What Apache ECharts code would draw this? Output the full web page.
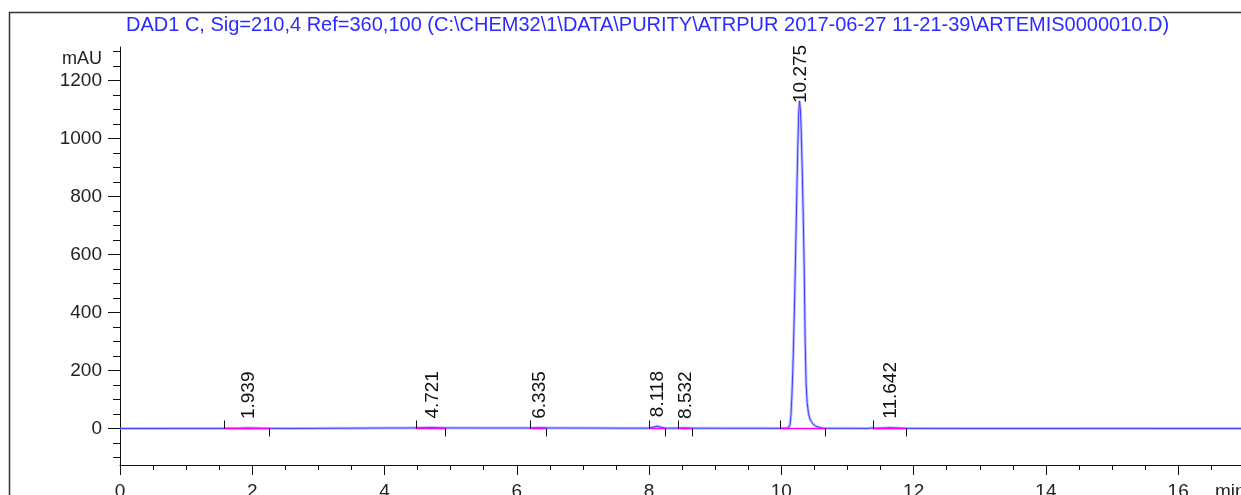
<!DOCTYPE html>
<html>
<head>
<meta charset="utf-8">
<title>DAD1 C chromatogram</title>
<script src="https://cdn.jsdelivr.net/npm/echarts@6/dist/echarts.min.js"></script>
<style>
  html, body { margin: 0; padding: 0; background: #ffffff; }
  #chart { width: 1241px; height: 495px; }
</style>
</head>
<body>
<div id="chart"></div>
<script>
// Signal header
const titleText = 'DAD1 C, Sig=210,4 Ref=360,100 (C:\\CHEM32\\1\\DATA\\PURITY\\ATRPUR 2017-06-27 11-21-39\\ARTEMIS0000010.D)';

// Detector trace: [retention time (min), absorbance (mAU)]
const trace = [
  [0.00, 0.0], [0.50, 0.2], [1.00, 0.3], [1.50, 0.3], [1.80, 0.6], [1.94, 1.5], [2.10, 0.6],
  [2.50, 0.2], [3.00, 0.4], [3.50, 1.0], [4.00, 1.5], [4.40, 1.8], [4.72, 3.0], [4.90, 2.0],
  [5.30, 1.8], [5.80, 1.6], [6.20, 1.5], [6.335, 2.5], [6.50, 1.6], [7.00, 1.4], [7.50, 1.2],
  [7.90, 1.0], [8.00, 1.2], [8.06, 4.0], [8.118, 8.0], [8.18, 4.0], [8.24, 1.2], [8.44, 1.0],
  [8.532, 2.0], [8.65, 1.0], [9.00, 0.8], [9.50, 0.6], [9.98, 0.5], [10.10, 0.8],
  [10.118, 2], [10.13, 12], [10.145, 45], [10.16, 115], [10.175, 215], [10.19, 340],
  [10.205, 490], [10.22, 655], [10.235, 825], [10.25, 985], [10.262, 1085], [10.275, 1130],
  [10.288, 1100], [10.30, 1030], [10.315, 900], [10.33, 740], [10.345, 560], [10.36, 300],
  [10.375, 150], [10.39, 90], [10.41, 52], [10.43, 34], [10.45, 25], [10.48, 15], [10.52, 8],
  [10.58, 3], [10.64, 0.8], [10.70, 0.5], [11.00, 0.4], [11.30, 0.3], [11.36, 1.5], [11.40, 0.4],
  [11.55, 1.5], [11.642, 2.5], [11.75, 1.5], [11.88, 0.5], [12.30, 0.3], [13.00, 0.2],
  [14.00, 0.2], [15.00, 0.3], [16.00, 0.2], [16.95, 0.2]
];

// Integrated peaks
const peakTimes   = [1.939, 4.721, 6.335, 8.118, 8.532, 10.275, 11.642];
const peakHeights = [1.5, 3.0, 2.5, 8.0, 2.0, 1130, 2.5];
const integStart  = [1.58, 4.47, 6.20, 8.00, 8.44, 9.98, 11.38];
const integEnd    = [2.25, 4.92, 6.44, 8.24, 8.65, 10.66, 11.88];

// Axis ticks
const xMajorTicks = [0, 2, 4, 6, 8, 10, 12, 14, 16];
const xMinorTicks = [];
for (let v = 0; v <= 16.5; v += 0.5) xMinorTicks.push(v);
const yMajorTicks = [0, 200, 400, 600, 800, 1000, 1200];
const yMinorTicks = [];
for (let v = -100; v <= 1300; v += 50) yMinorTicks.push(v);

const X_MIN = 0, X_MAX = 16.95;
const Y_MIN = -126, Y_MAX = 1316;

const FONT = 'Liberation Sans, Arial, sans-serif';
const chart = echarts.init(document.getElementById('chart'), null, { renderer: 'canvas' });

const peakLabelData = peakTimes.map((t, i) => [t, peakHeights[i]]);
const integData = integStart.map((s, i) => [s, integEnd[i]]);

const plainNumber = v => String(v);
const axisCommon = { type: 'value', splitLine: { show: false } };

chart.setOption({
  animation: false,
  backgroundColor: '#ffffff',
  title: {
    text: titleText,
    left: 126, top: 15, padding: 0,
    textStyle: { color: '#2b2bff', fontFamily: FONT, fontSize: 20, fontWeight: 'normal' }
  },
  grid: { left: 120, right: 0, top: 47, bottom: 30, containLabel: false, outerBoundsMode: 'none' },
  xAxis: [
    Object.assign({}, axisCommon, {
      min: X_MIN, max: X_MAX, position: 'bottom',
      axisLine: { show: true, onZero: false, lineStyle: { color: '#111', width: 1 } },
      axisTick: { show: true, customValues: xMajorTicks, length: 10, lineStyle: { color: '#111', width: 1 } },
      axisLabel: { show: true, customValues: xMajorTicks, formatter: plainNumber, margin: 17, color: '#222', fontFamily: FONT, fontSize: 19 }
    }),
    Object.assign({}, axisCommon, {
      min: X_MIN, max: X_MAX, position: 'bottom', offset: 0,
      axisLine: { show: false, onZero: false },
      axisTick: { show: true, customValues: xMinorTicks, length: 5, lineStyle: { color: '#111', width: 1 } },
      axisLabel: { show: false }
    })
  ],
  yAxis: [
    Object.assign({}, axisCommon, {
      min: Y_MIN, max: Y_MAX, position: 'left',
      axisLine: { show: true, onZero: false, lineStyle: { color: '#111', width: 1 } },
      axisTick: { show: true, customValues: yMajorTicks, length: 12, lineStyle: { color: '#111', width: 1 } },
      axisLabel: { show: true, customValues: yMajorTicks, formatter: plainNumber, margin: 18, color: '#222', fontFamily: FONT, fontSize: 19 }
    }),
    Object.assign({}, axisCommon, {
      min: Y_MIN, max: Y_MAX, position: 'left', offset: 0,
      axisLine: { show: false, onZero: false },
      axisTick: { show: true, customValues: yMinorTicks, length: 7, lineStyle: { color: '#111', width: 1 } },
      axisLabel: { show: false }
    })
  ],
  graphic: [
    // outer frame of the printout
    { type: 'rect', shape: { x: 9.5, y: 12.5, width: 1300, height: 600 }, style: { fill: 'none', stroke: '#333', lineWidth: 1.5 }, silent: true },
    { type: 'text', right: 1241 - 102, top: 50, style: { text: 'mAU', fill: '#222', font: '18px ' + FONT } },
    { type: 'text', left: 1215, top: 482, style: { text: 'min', fill: '#222', font: '19px ' + FONT } }
  ],
  series: [
    {
      type: 'line', name: 'halo', data: trace, showSymbol: false, silent: true,
      lineStyle: { color: 'rgba(120,120,255,0.45)', width: 3 }, z: 2
    },
    {
      type: 'line', name: 'DAD1 C', data: trace, showSymbol: false, silent: true,
      lineStyle: { color: '#3a3aff', width: 1 }, z: 3
    },
    {
      type: 'custom', name: 'integration', data: integData, z: 4, silent: true,
      renderItem: function (params, api) {
        const p1 = api.coord([api.value(0), 0]);
        const p2 = api.coord([api.value(1), 0]);
        return {
          type: 'group',
          children: [
            { type: 'line', shape: { x1: p1[0], y1: p1[1], x2: p2[0], y2: p2[1] }, style: { stroke: '#ff00ff', lineWidth: 1.5 } },
            { type: 'line', shape: { x1: Math.round(p1[0]) + 0.5, y1: p1[1], x2: Math.round(p1[0]) + 0.5, y2: p1[1] - 8 }, style: { stroke: '#111', lineWidth: 1 } },
            { type: 'line', shape: { x1: Math.round(p2[0]) + 0.5, y1: p2[1], x2: Math.round(p2[0]) + 0.5, y2: p2[1] + 8 }, style: { stroke: '#111', lineWidth: 1 } }
          ]
        };
      }
    },
    {
      type: 'custom', name: 'peak labels', data: peakLabelData, z: 5, silent: true,
      renderItem: function (params, api) {
        const t = api.value(0);
        const p = api.coord([t, api.value(1)]);
        const top = params.coordSys.y;
        const base = Math.max(p[1] - 9, top + 56);
        return {
          type: 'text', x: p[0] + 1, y: base, rotation: Math.PI / 2,
          style: { text: t.toFixed(3), fill: '#111', font: '19px ' + FONT, align: 'left', verticalAlign: 'middle' }
        };
      }
    }
  ]
});
</script>
</body>
</html>
